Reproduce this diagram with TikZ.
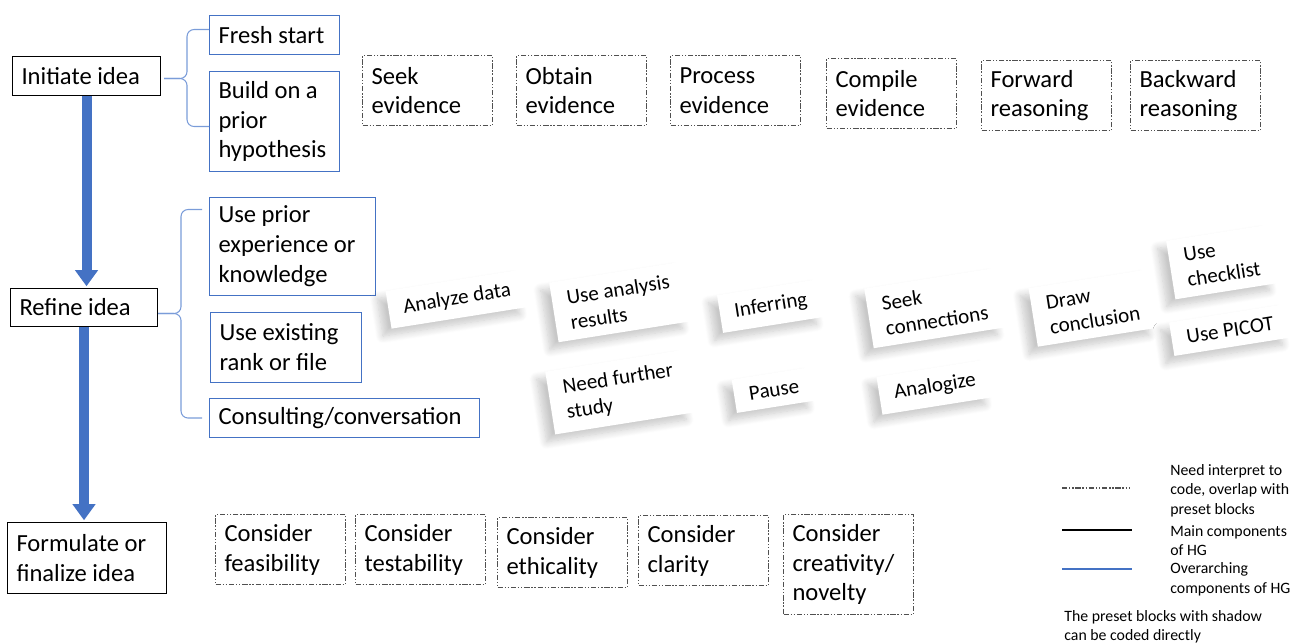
\documentclass[tikz,border=0pt]{standalone}
\usepackage{fontspec}
\setmainfont{Carlito}
\usetikzlibrary{arrows.meta, shadows.blur}

\definecolor{hgblue}{HTML}{4472C4}
\definecolor{bracecol}{HTML}{7A9CD9}
\definecolor{dashcol}{HTML}{505050}

\tikzset{
  mainbox/.style={draw=black, line width=0.6pt, anchor=north west, align=flush left,
    inner xsep=0.18cm, inner ysep=0pt},
  overbox/.style={mainbox, draw=hgblue},
  interp/.style={mainbox, draw=dashcol,
    dash pattern=on 3pt off 1pt on 0.8pt off 1pt on 0.8pt off 1pt},
  preset/.style={fill=white, align=flush left, rotate=9, inner xsep=0.3cm, inner ysep=0.2cm,
    font=\fontsize{12}{14.5}\selectfont,
    blur shadow={shadow xshift=-0.17cm, shadow yshift=-0.15cm,
      shadow blur radius=0.15cm, shadow blur steps=10, shadow opacity=22}},
  flow/.style={draw=hgblue, line width=0.2cm, -{Triangle[width=0.44cm,length=0.32cm]},
    shorten >=1pt},
  brace/.style={draw=bracecol, line width=0.6pt, rounded corners=0.14cm},
}

\begin{document}
\begin{tikzpicture}[x=0.02cm, y=-0.02cm, font=\fontsize{14}{17}\selectfont]

\useasboundingbox (0,0) rectangle (1294,644);

% main components
\begin{scope}[every node/.style={mainbox}]
    \node[text width=2.60cm, minimum height=0.78cm] (ini) at (12,56) {Initiate idea};
    \node[text width=2.58cm, minimum height=0.76cm] (ref) at (10,288) {Refine idea};
    \node[text width=2.82cm, minimum height=1.42cm] (form) at (7,522) {Formulate or\\finalize idea};
\end{scope}

% overarching components
\begin{scope}[every node/.style={overbox}]
    \node[text width=2.24cm, minimum height=0.78cm] (fresh) at (209,15) {Fresh start};
    \node[text width=2.24cm, minimum height=2.00cm] (build) at (209,71) {Build on a\\prior\\hypothesis};
    \node[text width=2.96cm, minimum height=1.96cm] (prior) at (209,197) {Use prior\\experience or\\knowledge};
    \node[text width=2.66cm, minimum height=1.40cm] (rank) at (210,312) {Use existing\\rank or file};
    \node[text width=5.04cm, minimum height=0.78cm] (cons) at (209,398) {Consulting/conversation};
\end{scope}

% blocks to interpret
\begin{scope}[every node/.style={interp, text width=2.24cm, minimum height=1.40cm}]
    \node (seek) at (362,55) {Seek\\evidence};
    \node (obtain) at (516,55) {Obtain\\evidence};
    \node (process) at (670,55) {Process\\evidence};
    \node (compile) at (826,58) {Compile\\evidence};
    \node (forward) at (981,60) {Forward\\reasoning};
    \node (backward) at (1130,60) {Backward\\reasoning};

    \node (feas) at (215,514) {Consider\\feasibility};
    \node (test) at (355,514) {Consider\\testability};
    \node (eth) at (497,517) {Consider\\ethicality};
    \node (clar) at (638,515) {Consider\\clarity};
    \node[minimum height=2.0cm] (crea) at (783,514) {Consider\\creativity/\\novelty};
\end{scope}

% preset blocks
\begin{scope}[every node/.style={preset}]
    \node (ana) at (457,299) {Analyze data};
    \node (res) at (620,302) {Use analysis\\results};
    \node (inf) at (771,306) {Inferring};
    \node (conn) at (935,308) {Seek\\connections};
    \node (concl) at (1093,308) {Draw\\conclusion};
    \node (check) at (1222,262) {Use\\checklist};
    \node (picot) at (1230,330) {Use PICOT};
    \node (study) at (620,392) {Need further\\study};
    \node (pause) at (774,390) {Pause};
    \node (analog) at (935,387) {Analogize};
\end{scope}

% flow
\draw[flow] (ini.south) -- (ini.south |- ref.north);
\draw[flow] (ref.south) -- (ref.south |- form.north);

% braces
\draw[brace] ([xshift=0.06cm,yshift=-0.05cm]ini.east) -- ++(23,0) |- ([yshift=0.11cm]fresh.west);
\draw[brace] ([xshift=0.06cm,yshift=-0.05cm]ini.east) -- ++(23,0) |- ([yshift=-0.1cm]build.west);
\draw[brace] ([yshift=-0.12cm]ref.east) -- ++(23,0) |- ([xshift=-0.14cm,yshift=0.74cm]prior.west);
\draw[brace] ([yshift=-0.12cm]ref.east) -- ++(23,0) |- ([xshift=-0.14cm]cons.west);

% legend
\coordinate (k1a) at (1062,488);
\coordinate (k1b) at (1130,488);
\coordinate (k2a) at (1062,530);
\coordinate (k2b) at (1132,530);
\coordinate (k3a) at (1062,569);
\coordinate (k3b) at (1132,569);
\draw[draw=dashcol, line width=0.6pt, dash pattern=on 3pt off 1pt on 0.8pt off 1pt on 0.8pt off 1pt] (k1a) -- (k1b);
\draw[black, line width=0.6pt] (k2a) -- (k2b);
\draw[hgblue, line width=0.6pt] (k3a) -- (k3b);

\begin{scope}[every node/.style={anchor=west, align=flush left, inner sep=0pt, font=\fontsize{9}{11.1}\selectfont}]
    \node (t1) at (1170,490.5) {Need interpret to\\code, overlap with\\preset blocks};
    \node (t2) at (1170,540.5) {Main components\\of HG};
    \node (t3) at (1170,579.5) {Overarching\\components of HG};
    \node (t4) at (1064,627) {The preset blocks with shadow\\can be coded directly};
\end{scope}

\end{tikzpicture}
\end{document}
